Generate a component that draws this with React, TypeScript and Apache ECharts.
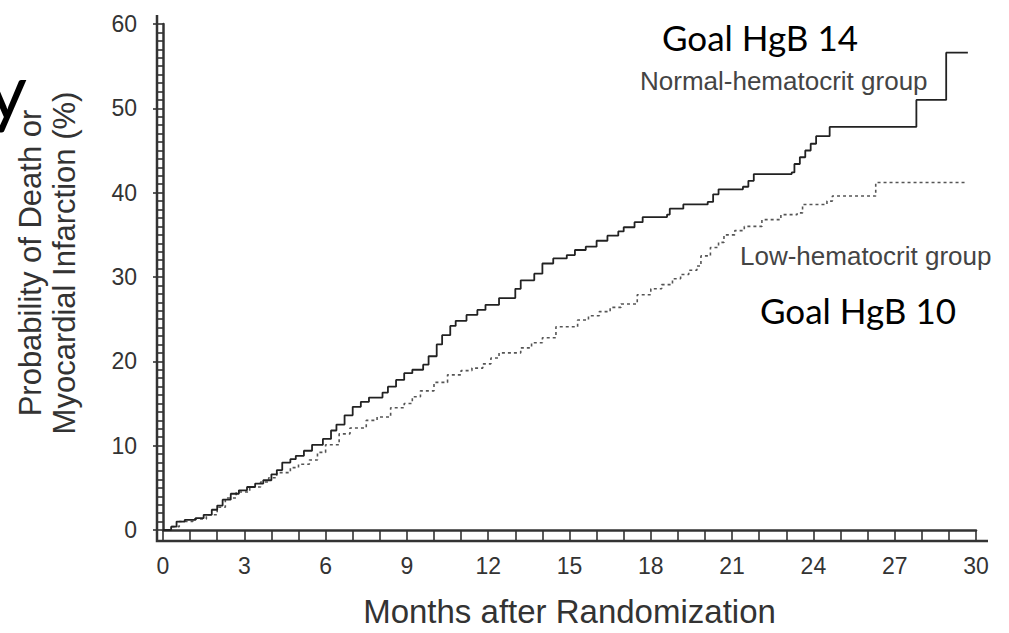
import React, { useEffect, useRef } from "react";
import * as echarts from "echarts";

// Normal-hematocrit group (Goal HgB 14) — step curve
const normalMonths = [0, 0.3, 0.5, 0.8, 1.2, 1.5, 1.8, 2.0, 2.2, 2.5, 2.8, 3.1, 3.4, 3.7, 4.0, 4.2, 4.4, 4.7, 4.9, 5.2, 5.5, 5.9, 6.2, 6.4, 6.7, 7.0, 7.3, 7.6, 8.1, 8.3, 8.6, 8.9, 9.2, 9.6, 9.8, 10.1, 10.3, 10.6, 10.8, 11.2, 11.6, 11.9, 12.4, 13.0, 13.2, 13.7, 14.0, 14.4, 14.9, 15.2, 15.6, 16.0, 16.4, 16.8, 17.0, 17.4, 17.7, 18.6, 18.7, 19.2, 20.1, 20.3, 20.5, 21.4, 21.6, 21.8, 23.2, 23.3, 23.5, 23.7, 23.9, 24.1, 24.6, 27.8, 28.9, 29.7];
const normalValues = [0, 0.4, 1.0, 1.2, 1.4, 1.8, 2.4, 2.9, 3.6, 4.3, 4.7, 5.1, 5.5, 5.9, 6.6, 7.1, 8.0, 8.4, 8.8, 9.4, 10.1, 10.8, 11.8, 12.5, 13.6, 14.6, 15.2, 15.7, 16.3, 17.0, 17.8, 18.6, 19.0, 19.6, 20.6, 22.0, 23.1, 24.2, 24.8, 25.5, 26.1, 26.7, 27.5, 28.6, 29.6, 30.4, 31.6, 32.2, 32.6, 33.2, 33.6, 34.3, 34.9, 35.4, 35.9, 36.5, 37.1, 37.4, 38.1, 38.6, 38.9, 39.8, 40.4, 40.7, 41.4, 42.2, 42.4, 43.4, 44.2, 45.0, 45.8, 46.7, 47.8, 51.0, 56.6, 56.6];

// Low-hematocrit group (Goal HgB 10) — step curve
const lowMonths = [0, 0.3, 0.6, 1.1, 1.6, 2.0, 2.3, 2.7, 3.2, 3.6, 3.9, 4.2, 4.7, 5.0, 5.4, 5.7, 6.0, 6.5, 6.9, 7.5, 7.9, 8.4, 8.9, 9.2, 9.5, 10.0, 10.5, 11.0, 11.4, 11.8, 12.1, 12.4, 13.2, 13.6, 14.0, 14.5, 15.3, 15.7, 16.1, 16.5, 16.9, 17.5, 18.0, 18.4, 18.8, 19.1, 19.4, 19.7, 19.85, 20.2, 20.5, 20.7, 21.1, 21.45, 22.1, 22.8, 23.4, 23.6, 24.5, 24.7, 26.3, 29.6];
const lowValues = [0, 0.4, 1.0, 1.3, 1.8, 2.7, 3.8, 4.5, 5.1, 5.7, 6.2, 6.8, 7.4, 7.8, 8.3, 9.2, 10.1, 11.4, 12.1, 13.0, 13.4, 14.5, 15.0, 15.8, 16.5, 17.5, 18.4, 18.9, 19.2, 19.7, 20.4, 21.0, 21.6, 22.2, 22.8, 24.1, 24.9, 25.4, 25.9, 26.4, 26.8, 27.9, 28.6, 29.1, 29.8, 30.3, 30.8, 31.3, 32.5, 33.5, 34.1, 35.0, 35.5, 36.0, 36.8, 37.4, 37.6, 38.6, 39.0, 39.6, 41.2, 41.2];

const xTitle = "Months after Randomization";
const yTitle = "Probability of Death or\nMyocardial Infarction (%)";
const normalLabel = "Normal-hematocrit group";
const lowLabel = "Low-hematocrit group";
const goalHigh = "Goal HgB 14";
const goalLow = "Goal HgB 10";

const SANS = "'Liberation Sans', Arial, Helvetica, sans-serif";
const AXIS = "#333";

export default function App() {
  const ref = useRef<HTMLDivElement>(null);

  useEffect(() => {
    if (!ref.current) return;
    const chart = echarts.init(ref.current, undefined, { renderer: "svg" });
    const normalData = normalMonths.map((m, i) => [m, normalValues[i]]);
    const lowData = lowMonths.map((m, i) => [m, lowValues[i]]);

    chart.setOption({
      animation: false,
      backgroundColor: "#fff",
      grid: { left: 163, right: 33, top: 24, bottom: 100, containLabel: false },
      xAxis: {
        type: "value",
        min: 0,
        max: 30,
        interval: 3,
        offset: 8,
        axisLine: { show: true, lineStyle: { color: AXIS, width: 2.5 } },
        axisTick: { show: true, length: 10, lineStyle: { color: AXIS, width: 1.6 } },
        minorTick: { show: true, splitNumber: 3, length: 10, lineStyle: { color: AXIS, width: 1.6 } },
        splitLine: { show: false },
        minorSplitLine: { show: false },
        axisLabel: { fontSize: 23, color: AXIS, margin: 16, fontFamily: SANS },
        name: xTitle,
        nameLocation: "middle",
        nameGap: 57,
        nameTextStyle: { fontSize: 33, color: AXIS, fontFamily: SANS },
      },
      yAxis: {
        type: "value",
        min: 0,
        max: 60,
        interval: 10,
        offset: 6,
        axisLine: { show: true, lineStyle: { color: AXIS, width: 2.5 } },
        axisTick: { show: true, length: 10, lineStyle: { color: AXIS, width: 1.6 } },
        minorTick: { show: true, splitNumber: 10, length: 7, lineStyle: { color: AXIS, width: 1.6 } },
        splitLine: { show: false },
        minorSplitLine: { show: false },
        axisLabel: { fontSize: 23, color: AXIS, margin: 20, fontFamily: SANS },
      },
      series: [
        {
          name: normalLabel,
          type: "line",
          step: "end",
          symbol: "none",
          data: normalData,
          lineStyle: { color: "#222", width: 1.8 },
          z: 3,
        },
        {
          name: lowLabel,
          type: "line",
          step: "end",
          symbol: "none",
          data: lowData,
          lineStyle: { color: "#555", width: 1.6, type: [3, 3] },
          z: 2,
        },
      ],
      graphic: [
        {
          type: "polyline",
          shape: { points: [[157, 15], [157, 541], [988, 541]] },
          style: { stroke: AXIS, lineWidth: 2.5, fill: "none" },
          z: 10,
        },
        {
          type: "text",
          x: 47,
          y: 263,
          rotation: Math.PI / 2,
          style: {
            text: yTitle,
            font: `31px ${SANS}`,
            fill: AXIS,
            align: "center",
            verticalAlign: "middle",
            lineHeight: 34,
          },
        },
        {
          type: "text",
          x: 27,
          y: 89,
          style: { text: "y", font: "78px Lato, 'Noto Sans', sans-serif", fill: "#000", align: "right", verticalAlign: "middle" },
        },
        {
          type: "text",
          x: 662,
          y: 37,
          style: { text: goalHigh, font: "35px Lato, 'Noto Sans', sans-serif", fill: "#000", align: "left", verticalAlign: "middle" },
        },
        {
          type: "text",
          x: 760,
          y: 310,
          style: { text: goalLow, font: "35px Lato, 'Noto Sans', sans-serif", fill: "#000", align: "left", verticalAlign: "middle" },
        },
        {
          type: "text",
          x: 640,
          y: 81,
          style: { text: normalLabel, font: `26px ${SANS}`, fill: "#444", align: "left", verticalAlign: "middle" },
        },
        {
          type: "text",
          x: 740,
          y: 256,
          style: { text: lowLabel, font: `26px ${SANS}`, fill: "#444", align: "left", verticalAlign: "middle" },
        },
      ],
    });

    return () => chart.dispose();
  }, []);

  return (
    <div
      ref={ref}
      style={{ position: "fixed", left: 0, top: 0, width: 1009, height: 633, background: "#fff" }}
    />
  );
}
